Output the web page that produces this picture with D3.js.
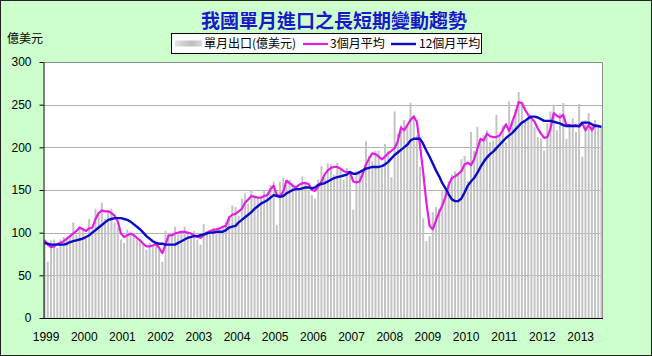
<!DOCTYPE html>
<html><head><meta charset="utf-8">
<script src="https://cdn.jsdelivr.net/npm/d3@7"></script>
<style>body{margin:0;background:#fff}svg{display:block}</style>
</head><body>
<svg id="chart" width="652" height="356"></svg>
<script>
const yearLabels = ["1999","2000","2001","2002","2003","2004","2005","2006","2007","2008","2009","2010","2011","2012","2013"];
const yTicks = [0, 50, 100, 150, 200, 250, 300];
// monthly imports (億美元), Jan 1999 - Aug 2013
const imports = [
  92, 66, 91, 92, 82, 92, 95, 93, 96, 112, 98, 108,
  106, 96, 116, 104, 128, 124, 135, 116, 124, 128, 112, 106,
  92, 88, 104, 99, 98, 92, 90, 86, 80, 88, 84, 88,
  80, 66, 102, 96, 100, 107, 98, 100, 107, 99, 96, 102,
  92, 86, 110, 102, 98, 106, 100, 104, 108, 112, 118, 132,
  130, 120, 140, 146, 134, 150, 142, 140, 142, 150, 146, 156,
  160, 109, 160, 164, 156, 162, 158, 150, 150, 166, 160, 150,
  144, 140, 162, 178, 164, 181, 180, 168, 182, 174, 162, 176,
  172, 127, 172, 170, 172, 207, 190, 184, 196, 196, 176, 204,
  196, 165, 242, 216, 226, 232, 226, 252, 238, 214, 177, 117,
  90, 96, 124, 130, 128, 150, 152, 160, 168, 172, 168, 186,
  190, 160, 218, 196, 224, 210, 214, 220, 206, 208, 238, 214,
  226, 206, 254, 230, 245, 265, 250, 230, 236, 232, 224, 212,
  210, 196, 228, 242, 250, 220, 240, 252, 210, 226, 234, 218,
  251, 189, 232, 240, 226, 232, 226, 224
];
// 3-month average
const avg3 = [
  91, 86, 83, 84, 87, 88, 90, 93, 96, 99, 102, 106,
  104, 102, 105, 106, 116, 123, 126, 125, 125, 123, 120, 113,
  99, 95, 97, 99, 97, 94, 91, 87, 84, 84, 85, 87,
  82, 76, 86, 97, 97, 99, 100, 101, 101, 100, 99, 97,
  95, 94, 97, 100, 102, 103, 104, 105, 107, 108, 118, 121,
  122, 125, 128, 135, 139, 143, 142, 141, 141, 143, 144, 151,
  155, 144, 143, 148, 161, 158, 155, 153, 156, 158, 158, 157,
  150, 149, 154, 160, 168, 173, 176, 177, 177, 175, 172, 171,
  171, 160, 159, 160, 169, 180, 187, 193, 192, 189, 186, 189,
  193, 196, 199, 207, 223, 220, 226, 232, 236, 230, 202, 170,
  135, 108, 104, 114, 124, 132, 142, 156, 164, 166, 169, 172,
  180, 182, 179, 186, 198, 210, 208, 216, 213, 212, 212, 214,
  220, 227, 219, 230, 240, 253, 252, 244, 238, 234, 230, 222,
  216, 211, 212, 222, 240, 237, 235, 238, 226, 226, 225, 226,
  224, 228, 220, 226, 220, 226, 225, 224
];
// 12-month average
const avg12 = [
  88, 87, 86, 86, 86, 86, 86, 87, 89, 90, 91, 92,
  93, 95, 97, 100, 103, 106, 109, 112, 115, 116, 117, 117,
  117, 116, 115, 113, 110, 107, 104, 100, 96, 93, 90, 88,
  87, 87, 86, 86, 86, 86, 88, 90, 92, 94, 95, 96,
  96, 97, 98, 99, 100, 100, 101, 101, 101, 103, 106, 107,
  108, 112, 115, 118, 121, 124, 128, 131, 134, 136, 138, 141,
  144, 143, 142, 143, 146, 148, 150, 151, 151, 152, 153, 153,
  152, 153, 156, 157, 158, 160, 162, 164, 165, 166, 167, 168,
  171, 169, 169, 171, 173, 175, 176, 177, 177, 177, 178, 180,
  183, 187, 191, 194, 197, 200, 203, 208, 210, 210, 210, 204,
  196, 189, 181, 173, 166, 158, 152, 145, 139, 137, 137, 140,
  147, 155, 160, 164, 170, 177, 183, 188, 192, 195, 199, 203,
  207, 211, 214, 217, 221, 225, 229, 231, 234, 236, 236, 235,
  233, 231, 231, 231, 230, 229, 228, 226, 225, 225, 225, 225,
  225, 229, 229, 229, 227, 225, 225, 224
];
const startYear = 1999;
const months = imports.map((d, i) => `${startYear + Math.floor(i / 12)}-${String(i % 12 + 1).padStart(2, "0")}`);

const W = 652, H = 356;
const plot = {left: 43, right: 603, top: 62, bottom: 318};
const svg = d3.select("#chart");
const latin = "'Liberation Sans', Arial, sans-serif";
const cjk = "'Noto Sans CJK TC', 'Noto Sans CJK SC', sans-serif";

// background
svg.append("rect").attr("x", 0.5).attr("y", 0.5).attr("width", W - 1).attr("height", H - 1)
  .attr("fill", "#ccffcc").attr("stroke", "#222").attr("stroke-width", 1);

const x = d3.scaleBand().domain(months).range([plot.left, plot.right]).paddingInner(0.38).paddingOuter(0.19);
const xc = d => x(d) + x.bandwidth() / 2;
const y = d3.scaleLinear().domain([0, 300]).range([plot.bottom, plot.top]);

// plot area
svg.append("rect").attr("x", plot.left).attr("y", plot.top)
  .attr("width", plot.right - plot.left).attr("height", plot.bottom - plot.top)
  .attr("fill", "#fff");

// grid
svg.append("g").selectAll("line").data(yTicks.filter(t => t > 0 && t < 300)).join("line")
  .attr("x1", plot.left).attr("x2", plot.right)
  .attr("y1", d => Math.round(y(d)) + 0.5).attr("y2", d => Math.round(y(d)) + 0.5)
  .attr("stroke", "#b0b0b0").attr("stroke-width", 1);

// bars
svg.append("g").selectAll("rect").data(imports).join("rect")
  .attr("x", (d, i) => x(months[i]))
  .attr("width", x.bandwidth())
  .attr("y", d => y(d))
  .attr("height", d => y(0) - y(d))
  .attr("fill", "#c3c3c3");

// plot border (top / right gray)
svg.append("path")
  .attr("d", `M${plot.left},${plot.top + 0.5}H${plot.right - 0.5}V${plot.bottom}`)
  .attr("fill", "none").attr("stroke", "#8c8c8c").attr("stroke-width", 1);

// lines
const line = arr => d3.line().x((d, i) => xc(months[i])).y(d => y(d))(arr);
svg.append("path").attr("d", line(avg3)).attr("fill", "none")
  .attr("stroke", "#e31ee3").attr("stroke-width", 2.2).attr("stroke-linejoin", "round");
svg.append("path").attr("d", line(avg12)).attr("fill", "none")
  .attr("stroke", "#0a0ac8").attr("stroke-width", 2.4).attr("stroke-linejoin", "round");

// y axis
const yAxis = svg.append("g").attr("transform", `translate(${plot.left + 0.5},0)`)
  .call(d3.axisLeft(y).tickValues(yTicks).tickSize(4).tickSizeOuter(0).tickPadding(8));
yAxis.select(".domain").attr("stroke", "#000");
yAxis.selectAll(".tick line").attr("stroke", "#000");
yAxis.selectAll("text").attr("font-family", latin).attr("font-size", 12).attr("fill", "#000");

// x axis line
svg.append("line").attr("x1", plot.left).attr("x2", plot.right)
  .attr("y1", plot.bottom + 0.5).attr("y2", plot.bottom + 0.5).attr("stroke", "#000");

// x labels (January of each year)
const janMonths = yearLabels.map(yl => `${yl}-01`);
svg.append("g").selectAll("text").data(yearLabels).join("text")
  .attr("x", (d, i) => xc(janMonths[i]) + 1.5)
  .attr("y", 341)
  .attr("text-anchor", "middle")
  .attr("font-family", latin).attr("font-size", 12).attr("fill", "#000")
  .text(d => d);

// title
svg.append("text").attr("x", 334).attr("y", 28)
  .attr("text-anchor", "middle")
  .attr("font-family", cjk).attr("font-weight", "bold").attr("font-size", 19)
  .attr("fill", "#1818c8")
  .text("我國單月進口之長短期變動趨勢");

// unit label
svg.append("text").attr("x", 7).attr("y", 43)
  .attr("font-family", cjk).attr("font-size", 12).attr("fill", "#000")
  .text("億美元");

// legend
const lg = svg.append("g");
lg.append("rect").attr("x", 171.5).attr("y", 33.5).attr("width", 310).attr("height", 20)
  .attr("fill", "#fff").attr("stroke", "#000");
const defs = svg.append("defs");
const grad = defs.append("linearGradient").attr("id", "gbar");
grad.append("stop").attr("offset", "0%").attr("stop-color", "#e4e4e4");
grad.append("stop").attr("offset", "60%").attr("stop-color", "#bdbdbd");
grad.append("stop").attr("offset", "100%").attr("stop-color", "#d8d8d8");
lg.append("rect").attr("x", 175).attr("y", 40.5).attr("width", 27).attr("height", 6).attr("fill", "url(#gbar)");
lg.append("text").attr("x", 204).attr("y", 48).attr("font-family", cjk).attr("font-size", 12).attr("fill", "#000")
  .text("單月出口(億美元)");
lg.append("line").attr("x1", 303).attr("x2", 328).attr("y1", 44).attr("y2", 44)
  .attr("stroke", "#e31ee3").attr("stroke-width", 2.2);
lg.append("text").attr("x", 330).attr("y", 48).attr("font-family", cjk).attr("font-size", 12).attr("fill", "#000")
  .text("3個月平均");
lg.append("line").attr("x1", 391).attr("x2", 416).attr("y1", 44).attr("y2", 44)
  .attr("stroke", "#0a0ac8").attr("stroke-width", 2.4);
lg.append("text").attr("x", 419).attr("y", 48).attr("font-family", cjk).attr("font-size", 12).attr("fill", "#000")
  .text("12個月平均");
</script>
</body></html>
